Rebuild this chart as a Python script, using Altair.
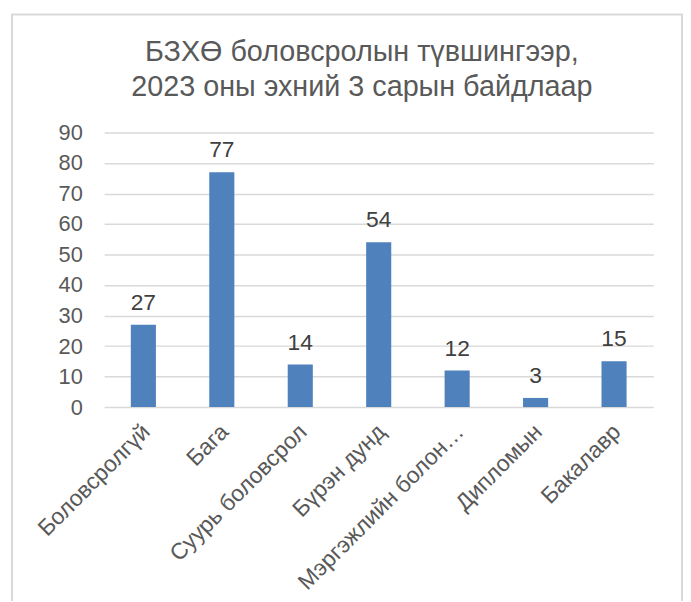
import altair as alt
import pandas as pd

categories = ["Боловсролгүй", "Бага", "Суурь боловсрол", "Бүрэн дунд",
              "Мэргэжлийн болон…", "Дипломын", "Бакалавр"]
values = [27, 77, 14, 54, 12, 3, 15]
y_ticks = [0, 10, 20, 30, 40, 50, 60, 70, 80, 90]
title_lines = ["БЗХӨ боловсролын түвшингээр,", "2023 оны эхний 3 сарын байдлаар"]

df = pd.DataFrame({"cat": categories, "val": values})

FONT = "Liberation Sans"

base = alt.Chart(df)

x_enc = alt.X("cat:N", sort=categories, title=None,
              scale=alt.Scale(paddingInner=0.68, paddingOuter=0.34),
              axis=alt.Axis(labelAngle=-45, labelFontSize=23, labelColor="#595959",
                            labelFont=FONT, ticks=False, domain=False, labelPadding=21,
                            labelOffset=3, labelAlign="right", labelBaseline="middle",
                            labelLimit=400, labelOverlap=False))
y_enc = alt.Y("val:Q", title=None,
              scale=alt.Scale(domain=[0, 90], nice=False),
              axis=alt.Axis(values=y_ticks, labelFontSize=22, labelOverlap=False,
                            labelColor="#595959", labelFont=FONT, ticks=False,
                            domain=False, labelPadding=22, gridColor="#d9d9d9",
                            gridWidth=1.5))

bars = base.mark_bar(color="#4f81bd").encode(x=x_enc, y=y_enc)

labels = base.mark_text(fontSize=23, color="#404040", font=FONT,
                        baseline="alphabetic", dy=-15).encode(
    x=x_enc, y=y_enc, text="val:Q")

frame = alt.Chart(pd.DataFrame({"a": [0]})).mark_rect(
    fill=None, stroke="#d9d9d9", strokeWidth=2, clip=False).encode(
    x=alt.value(-93), x2=alt.value(583), y=alt.value(-119), y2=alt.value(480))

chart = alt.layer(frame, bars, labels).properties(
    width=554, height=277,
    title=alt.TitleParams(text=title_lines, fontSize=29, font=FONT, color="#595959",
                          fontWeight="normal", anchor="middle", dx=-17, offset=-89,
                          lineHeight=35),
    autosize=alt.AutoSizeParams(type="none"),
    padding={"left": 97, "top": 123, "right": 30, "bottom": 193},
).configure_view(stroke=None)

chart.save("out.html", embed_options={"renderer": "svg", "actions": False})
